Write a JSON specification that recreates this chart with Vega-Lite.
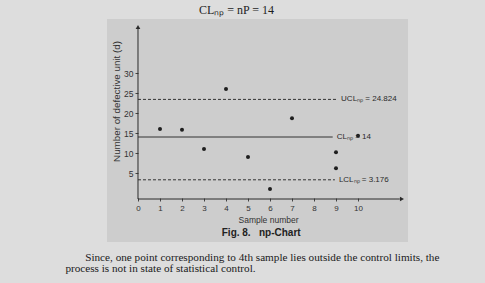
{
  "$schema": "https://vega.github.io/schema/vega-lite/v6.json",
  "width": 301,
  "height": 223,
  "autosize": {"type": "none"},
  "padding": {"left": 107, "top": 19, "right": 77, "bottom": 41},
  "background": "#dddddd",
  "view": {"fill": "#cdcdcd", "stroke": null},
  "config": {"axis": {"labelOverlap": false, "labelFlush": false}},
  "title": {
    "text": "CLₙₚ = nP = 14",
    "font": "Liberation Serif",
    "fontSize": 12,
    "fontWeight": "normal",
    "color": "#1e1e1e",
    "anchor": "middle",
    "dx": -21,
    "offset": 2
  },
  "datasets": {
    "points": [
      {"sample": 1, "d": 16},
      {"sample": 2, "d": 15.8},
      {"sample": 3, "d": 11},
      {"sample": 4, "d": 26},
      {"sample": 5, "d": 9},
      {"sample": 6, "d": 1},
      {"sample": 7, "d": 18.7},
      {"sample": 9, "d": 10.2},
      {"sample": 9, "d": 6.2},
      {"sample": 10, "d": 14.3}
    ],
    "limits": [
      {"name": "UCL", "value": 23.4, "start": 0, "end": 9.05, "label": "UCLₙₚ = 24.824"},
      {"name": "CL", "value": 14, "start": 0, "end": 8.85, "label": "CLₙₚ = 14"},
      {"name": "LCL", "value": 3.3, "start": 0, "end": 8.95, "label": "LCLₙₚ = 3.176"}
    ],
    "one": [{}]
  },
  "layer": [
    {
      "data": {"name": "points"},
      "mark": {"type": "circle", "color": "#1e1e1e", "size": 16, "opacity": 1},
      "encoding": {
        "x": {"field": "sample", "type": "quantitative",
          "scale": {"domain": [-1.409, 12.273], "nice": false, "zero": false},
          "axis": {
            "values": [0, 1, 2, 3, 4, 5, 6, 7, 8, 9, 10],
            "tickCount": 20,
            "format": "d",
            "offset": -44,
            "domain": false,
            "grid": false,
            "tickSize": 3,
            "tickColor": "#444444",
            "labelOverlap": false,
            "labelFlush": false,
            "labelFont": "Liberation Sans",
            "labelFontSize": 8,
            "labelColor": "#333333",
            "labelPadding": 3,
            "title": "Sample number",
            "titleFont": "Liberation Sans",
            "titleFontSize": 8.5,
            "titleFontWeight": "normal",
            "titleColor": "#333333",
            "titlePadding": 3,
            "titleX": 161
          }
        },
        "y": {"field": "d", "type": "quantitative",
          "scale": {"domain": [-12.25, 43.5], "nice": false, "zero": false},
          "axis": {
            "values": [5, 10, 15, 20, 25, 30],
            "tickCount": 20,
            "format": "d",
            "offset": -31,
            "domain": false,
            "grid": false,
            "tickSize": 3,
            "tickColor": "#444444",
            "labelOverlap": false,
            "labelFont": "Liberation Sans",
            "labelFontSize": 8.5,
            "labelColor": "#333333",
            "labelPadding": 2,
            "title": "Number of defective unit (d)",
            "titleFont": "Liberation Sans",
            "titleFontSize": 9.8,
            "titleFontWeight": "normal",
            "titleColor": "#333333",
            "titlePadding": 2,
            "titleY": 82
          }
        }
      }
    },
    {
      "data": {"name": "one"},
      "mark": {"type": "rule", "color": "#2a2a2a", "strokeWidth": 1},
      "encoding": {
        "x": {"datum": 0, "type": "quantitative"},
        "y": {"datum": -1.5, "type": "quantitative"},
        "y2": {"datum": 41}
      }
    },
    {
      "data": {"name": "one"},
      "mark": {"type": "rule", "color": "#2a2a2a", "strokeWidth": 1},
      "encoding": {
        "x": {"datum": 0, "type": "quantitative"},
        "x2": {"datum": 11.9},
        "y": {"datum": -1.5, "type": "quantitative"}
      }
    },
    {
      "data": {"name": "one"},
      "mark": {"type": "point", "shape": "triangle-up", "filled": true, "color": "#2a2a2a", "size": 22, "opacity": 1},
      "encoding": {
        "x": {"datum": 0, "type": "quantitative"},
        "y": {"datum": 41.5, "type": "quantitative"}
      }
    },
    {
      "data": {"name": "one"},
      "mark": {"type": "point", "shape": "triangle-right", "filled": true, "color": "#2a2a2a", "size": 22, "opacity": 1},
      "encoding": {
        "x": {"datum": 12.0, "type": "quantitative"},
        "y": {"datum": -1.5, "type": "quantitative"}
      }
    },
    {
      "data": {"name": "limits"},
      "transform": [{"filter": "datum.name !== 'CL'"}],
      "mark": {"type": "rule", "color": "#333333", "strokeWidth": 1, "strokeDash": [3, 2]},
      "encoding": {
        "x": {"field": "start", "type": "quantitative"},
        "x2": {"field": "end"},
        "y": {"field": "value", "type": "quantitative"}
      }
    },
    {
      "data": {"name": "limits"},
      "transform": [{"filter": "datum.name === 'CL'"}],
      "mark": {"type": "rule", "color": "#333333", "strokeWidth": 1},
      "encoding": {
        "x": {"field": "start", "type": "quantitative"},
        "x2": {"field": "end"},
        "y": {"field": "value", "type": "quantitative"}
      }
    },
    {
      "data": {"name": "limits"},
      "mark": {"type": "text", "align": "left", "baseline": "middle", "dx": 4, "font": "Liberation Sans", "fontSize": 8, "color": "#2a2a2a"},
      "encoding": {
        "x": {"field": "end", "type": "quantitative"},
        "y": {"field": "value", "type": "quantitative"},
        "text": {"field": "label"}
      }
    },
    {
      "data": {"name": "one"},
      "mark": {"type": "text", "align": "center", "baseline": "middle", "font": "Liberation Sans", "fontSize": 10, "fontWeight": "bold", "color": "#222222"},
      "encoding": {
        "x": {"datum": 5.6, "type": "quantitative"},
        "y": {"datum": -10, "type": "quantitative"},
        "text": {"value": "Fig. 8.\u00a0\u00a0\u00a0np-Chart"}
      }
    },
    {
      "data": {"name": "one"},
      "mark": {"type": "text", "align": "left", "baseline": "middle", "font": "Liberation Serif", "fontSize": 11.2, "color": "#1a1a1a"},
      "encoding": {
        "x": {"datum": -2.4, "type": "quantitative"},
        "y": {"datum": -16.3, "type": "quantitative"},
        "text": {"value": "Since, one point corresponding to 4th sample lies outside the control limits, the"}
      }
    },
    {
      "data": {"name": "one"},
      "mark": {"type": "text", "align": "left", "baseline": "middle", "font": "Liberation Serif", "fontSize": 11.2, "color": "#1a1a1a"},
      "encoding": {
        "x": {"datum": -3.3, "type": "quantitative"},
        "y": {"datum": -19.1, "type": "quantitative"},
        "text": {"value": "process is not in state of statistical control."}
      }
    }
  ]
}
